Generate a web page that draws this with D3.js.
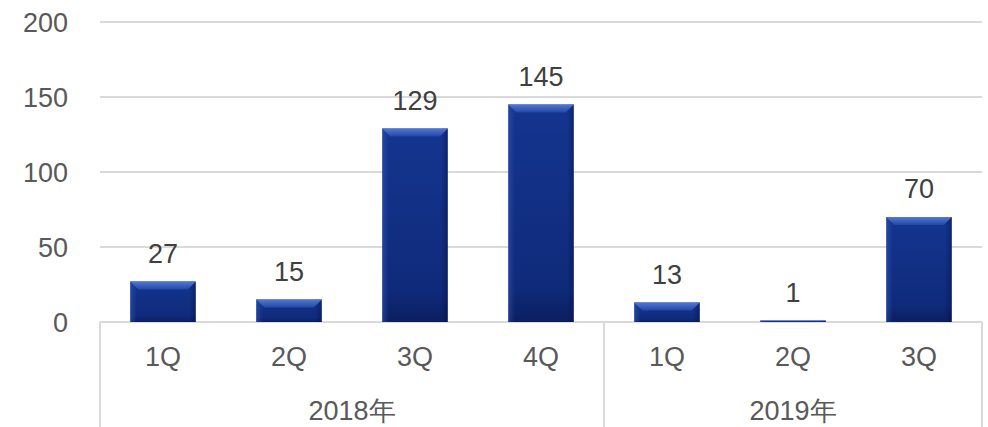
<!DOCTYPE html>
<html><head><meta charset="utf-8">
<script src="https://cdn.jsdelivr.net/npm/d3@7/dist/d3.min.js"></script>
<style>
html,body{margin:0;padding:0;background:#fff;}
svg{display:block;font-family:"Liberation Sans",Arial,sans-serif;}
</style></head>
<body>
<svg id="chart" width="988" height="427"></svg>
<script>
const quarters = ["1Q","2Q","3Q","4Q","1Q","2Q","3Q"];
const years = ["2018年","2018年","2018年","2018年","2019年","2019年","2019年"];
const values = [27,15,129,145,13,1,70];
const yTicks = [0,50,100,150,200];
const groups = [{name:"2018年",start:0,end:4},{name:"2019年",start:4,end:7}];

(function(){
const W=988,H=427;
const mLeft=100,mRight=982,mTop=22,mBottom=322;
const svg=d3.select("#chart");
const idx=d3.range(values.length);
const x=d3.scaleBand().domain(idx).range([mLeft,mRight]).paddingInner(0.48).paddingOuter(0.24);
const xc=d3.scaleBand().domain(idx).range([mLeft,mRight]);
const y=d3.scaleLinear().domain([0,200]).range([mBottom,mTop]);

const defs=svg.append("defs");
const g1=defs.append("linearGradient").attr("id","barg").attr("x1",0).attr("y1",0).attr("x2",0).attr("y2",1);
g1.append("stop").attr("offset","0").attr("stop-color","#14358f");
g1.append("stop").attr("offset","0.85").attr("stop-color","#0f2a7a");
g1.append("stop").attr("offset","1").attr("stop-color","#0b1f60");
const g3=defs.append("linearGradient").attr("id","sides").attr("x1",0).attr("y1",0).attr("x2",1).attr("y2",0);
g3.append("stop").attr("offset","0").attr("stop-color","#3a5fc0").attr("stop-opacity",0.45);
g3.append("stop").attr("offset","0.1").attr("stop-color","#3a5fc0").attr("stop-opacity",0);
g3.append("stop").attr("offset","0.9").attr("stop-color","#000830").attr("stop-opacity",0);
g3.append("stop").attr("offset","1").attr("stop-color","#000830").attr("stop-opacity",0.35);
const g2=defs.append("linearGradient").attr("id","bevel").attr("x1",0).attr("y1",0).attr("x2",0).attr("y2",1);
g2.append("stop").attr("offset","0").attr("stop-color","#5479d2");
g2.append("stop").attr("offset","1").attr("stop-color","#2247a6");

svg.append("g").selectAll("line").data(yTicks).join("line")
  .attr("x1",mLeft).attr("x2",mRight).attr("y1",d=>y(d)).attr("y2",d=>y(d))
  .attr("stroke","#d9d9d9").attr("stroke-width",2);

svg.append("g").selectAll("text").data(yTicks).join("text")
  .attr("x",68).attr("y",d=>y(d)).attr("dy","0.36em").attr("text-anchor","end")
  .attr("font-size",27).attr("fill","#595959").text(d=>d);

const bars=svg.append("g").selectAll("g").data(idx).join("g");
bars.append("rect")
  .attr("x",i=>x(i)).attr("y",i=>y(values[i])).attr("width",x.bandwidth())
  .attr("height",i=>y(0)-y(values[i])).attr("fill","url(#barg)");
bars.append("rect")
  .attr("x",i=>x(i)).attr("y",i=>y(values[i])).attr("width",x.bandwidth())
  .attr("height",i=>y(0)-y(values[i])).attr("fill","url(#sides)");
bars.append("path").attr("fill","url(#bevel)").attr("d",i=>{
  const x0=x(i),x1=x0+x.bandwidth(),t=y(values[i]),h=y(0)-t;
  const b=Math.min(8,h/2);
  return `M${x0},${t}L${x1},${t}L${x1-b},${t+b}L${x0+b},${t+b}Z`;
});
bars.append("text").attr("x",i=>x(i)+x.bandwidth()/2).attr("y",i=>y(values[i])-19)
  .attr("text-anchor","middle").attr("font-size",27).attr("fill","#404040").text(i=>values[i]);

svg.append("g").selectAll("text").data(idx).join("text")
  .attr("x",i=>xc(i)+xc.bandwidth()/2).attr("y",356).attr("dy","0.36em")
  .attr("text-anchor","middle").attr("font-size",27).attr("fill","#595959").text(i=>quarters[i]);

const seps=[0,4,7];
const sx=i=>i<values.length?xc(i):mRight;
svg.append("g").selectAll("line").data(seps).join("line")
  .attr("x1",sx).attr("x2",sx)
  .attr("y1",mBottom).attr("y2",H)
  .attr("stroke","#d9d9d9").attr("stroke-width",2);

svg.append("g").selectAll("text").data(groups).join("text")
  .attr("x",d=>(sx(d.start)+sx(d.end))/2)
  .attr("y",410).attr("dy","0.36em").attr("text-anchor","middle")
  .attr("font-size",27).attr("fill","#595959").text(d=>d.name);
})();
</script>
</body></html>
